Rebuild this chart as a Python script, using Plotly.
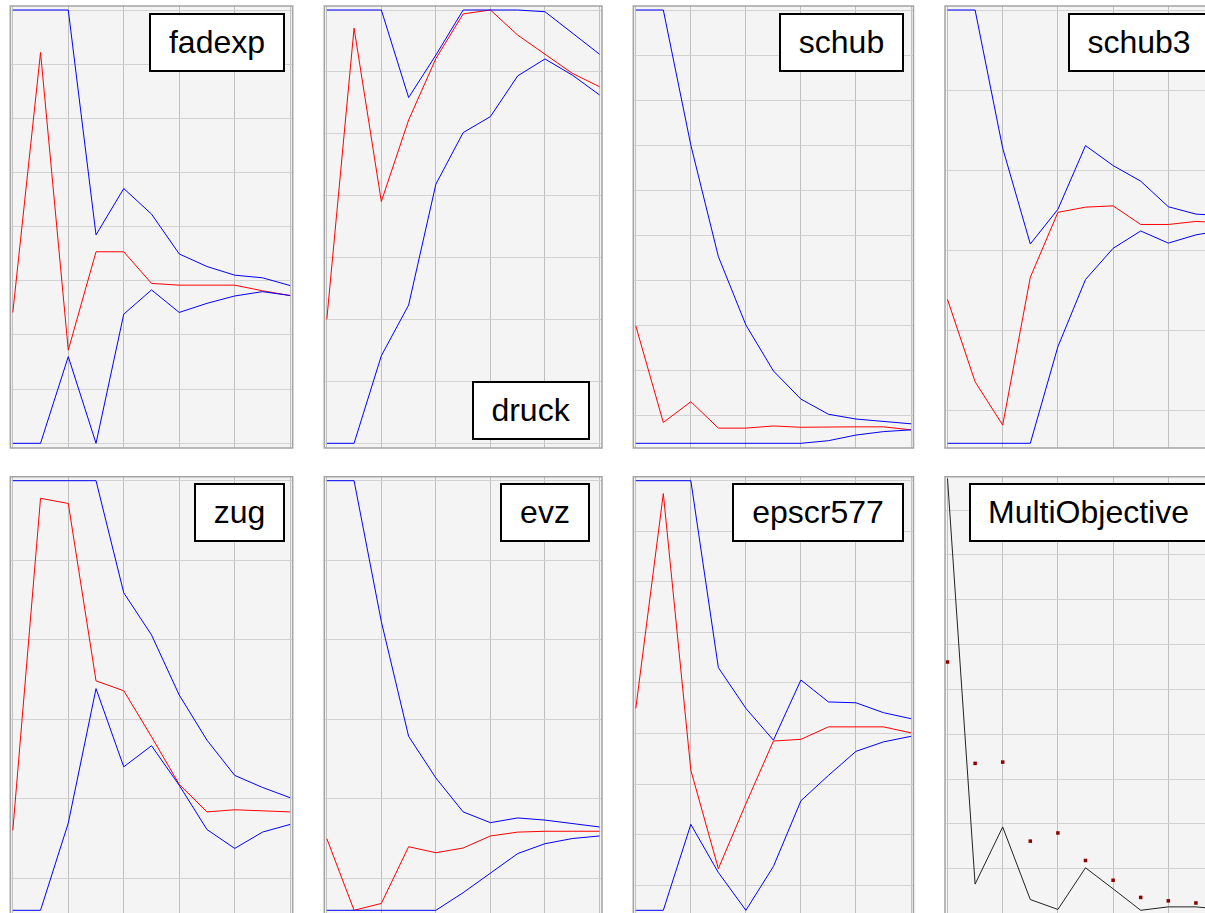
import plotly.graph_objects as go

W, H = 1205, 913

X = list(range(11))

# band values per run, read as percent of each panel's own y span
fadexp_hi = [100, 100, 100, 48.1, 58.8, 52.9, 43.7, 40.8, 38.8, 38.2, 36.4]
fadexp_mid = [30.2, 90.2, 21.5, 44.2, 44.2, 36.9, 36.5, 36.5, 36.5, 35.2, 34.1]
fadexp_lo = [0, 0, 20.0, 0, 29.8, 35.4, 30.2, 32.3, 34.0, 35.0, 34.1]

druck_hi = [100, 100, 100, 79.8, 89.6, 100, 100, 100, 99.6, 94.7, 89.8]
druck_mid = [28.6, 95.8, 55.8, 74.6, 88.8, 99.1, 100, 94.2, 89.8, 85.4, 82.3]
druck_lo = [0, 0, 20.2, 31.9, 59.8, 71.7, 75.4, 84.8, 88.7, 85.0, 80.4]

schub_hi = [100, 100, 68.8, 43.1, 27.3, 16.7, 10.2, 6.7, 5.6, 5.0, 4.5]
schub_mid = [27.1, 4.8, 9.6, 3.5, 3.5, 4.0, 3.7, 3.8, 3.8, 3.8, 3.1]
schub_lo = [0, 0, 0, 0, 0, 0, 0, 0.6, 1.9, 2.7, 3.1]

schub3_hi = [100, 100, 68.1, 46.0, 54.0, 68.7, 64.1, 60.5, 54.6, 52.9, 52.5]
schub3_mid = [33.2, 14.2, 4.2, 38.3, 53.3, 54.5, 54.8, 50.5, 50.5, 51.2, 50.9]
schub3_lo = [0, 0, 0, 0, 22.3, 37.8, 45.0, 49.0, 46.2, 48.1, 49.2]

zug_hi = [100, 100, 100, 100, 73.9, 64.1, 50.1, 39.6, 31.4, 28.6, 26.2]
zug_mid = [18.6, 95.9, 94.7, 53.4, 51.1, 40.4, 29.3, 22.9, 23.4, 23.1, 22.9]
zug_lo = [0, 0, 20.3, 51.6, 33.4, 38.3, 29.1, 18.8, 14.4, 18.2, 20.0]

evz_hi = [100, 100, 67.2, 40.5, 30.8, 22.9, 20.4, 21.5, 21.0, 20.2, 19.4]
evz_mid = [16.7, 0, 1.6, 14.8, 13.4, 14.5, 17.3, 18.2, 18.4, 18.4, 18.4]
evz_lo = [0, 0, 0, 0, 0, 4.1, 8.7, 13.2, 15.5, 16.7, 17.3]

epscr577_hi = [100, 100, 100, 56.5, 47.0, 39.6, 53.6, 48.5, 48.3, 46.0, 44.6]
epscr577_mid = [47.0, 97.0, 32.6, 9.7, 24.8, 39.4, 39.8, 42.7, 42.7, 42.7, 41.3]
epscr577_lo = [0, 0, 20.0, 8.8, 0, 10.2, 25.5, 31.4, 37.0, 39.2, 40.5]

multi_line = [100.5, 6.1, 19.4, 2.5, 0.2, 9.9, 5.0, 0, 0.8, 0.8, 0.2]
multi_dots = [57.8, 34.2, 34.5, 16.1, 18.0, 11.6, 7.0, 3.0, 2.2, 1.7, 1.5]

NAMES = ["fadexp", "druck", "schub", "schub3", "zug", "evz", "epscr577", "MultiObjective"]

BANDS = {
    "fadexp": (fadexp_hi, fadexp_mid, fadexp_lo),
    "druck": (druck_hi, druck_mid, druck_lo),
    "schub": (schub_hi, schub_mid, schub_lo),
    "schub3": (schub3_hi, schub3_mid, schub3_lo),
    "zug": (zug_hi, zug_mid, zug_lo),
    "evz": (evz_hi, evz_mid, evz_lo),
    "epscr577": (epscr577_hi, epscr577_mid, epscr577_lo),
}

# horizontal grid per panel: (tick0, dtick)
YGRID = {
    "fadexp": (0, 12.5),
    "druck": (0, 100 / 7),
    "schub": (100, 10.41),
    "schub3": (100, 18.5),
    "zug": (100, 18.5),
    "evz": (100, 18.5),
    "epscr577": (100, 11.77),
    "MultiObjective": (93.17, 10.44),
}

# label box: right px, top px, width px
BOX = {
    "fadexp": (285.3, 13.3, 136),
    "druck": (590.3, 380.7, 118),
    "schub": (904, 13.3, 125),
    "schub3": (1210, 13.3, 142),
    "zug": (285.3, 483.3, 91),
    "evz": (590, 483.3, 90),
    "epscr577": (904, 483.3, 172),
    "MultiObjective": (1208, 483.3, 239),
}
BOX_H = 58.5

# frame left/right per column, px (last one runs past the window)
COLS = [(10.3, 292.7), (324.3, 602), (633.3, 913.5), (945, 1226)]
# frame top/bottom and data top/bottom (px) per row
ROWS = [(6, 448, 10, 443.3), (476.7, 915, 480.7, 910.3)]

BLUE = "#0000ff"
RED = "#ff0000"
BG = "#f4f4f4"

fig = go.Figure()
shapes = []
annotations = []

for i, name in enumerate(NAMES):
    r, c = divmod(i, 4)
    ax = "" if i == 0 else str(i + 1)
    fl, fr = COLS[c]
    ft, fb, dt, db = ROWS[r]

    # linear pixel mapping for x (0..10) and y (0..100)
    x0px = fl + 2.5
    ppx = (fr - 2.5 - x0px) / 10
    ppy = (db - dt) / 100

    dl, dr = max(fl, 0), min(fr, W)
    dtop, dbot = max(ft, 0), min(fb, H)
    xrange = [(dl - x0px) / ppx, (dr - x0px) / ppx]
    yrange = [(db - dbot) / ppy, (db - dtop) / ppy]

    tick0, dtick = YGRID[name]
    fig.layout["xaxis" + ax] = dict(
        domain=[dl / W, dr / W], range=xrange, anchor="y" + ax,
        showgrid=True, gridcolor="#c0c0c0", gridwidth=1, tick0=0, dtick=2,
        showticklabels=False, ticks="", zeroline=False, showline=False, fixedrange=True,
    )
    fig.layout["yaxis" + ax] = dict(
        domain=[1 - dbot / H, 1 - dtop / H], range=yrange, anchor="x" + ax,
        showgrid=True, gridcolor="#d2d2d2", gridwidth=1, tick0=tick0, dtick=dtick,
        showticklabels=False, ticks="", zeroline=False, showline=False, fixedrange=True,
    )

    xa, ya = "x" + ax, "y" + ax
    if name in BANDS:
        hi, mid, lo = BANDS[name]
        fig.add_trace(go.Scatter(x=X, y=mid, mode="lines", line=dict(color=RED, width=1),
                                 xaxis=xa, yaxis=ya, showlegend=False))
        fig.add_trace(go.Scatter(x=X, y=hi, mode="lines", line=dict(color=BLUE, width=1),
                                 xaxis=xa, yaxis=ya, showlegend=False))
        fig.add_trace(go.Scatter(x=X, y=lo, mode="lines", line=dict(color=BLUE, width=1),
                                 xaxis=xa, yaxis=ya, showlegend=False))
    else:
        fig.add_trace(go.Scatter(x=X, y=multi_line, mode="lines", line=dict(color="#222222", width=1),
                                 xaxis=xa, yaxis=ya, showlegend=False))
        fig.add_trace(go.Scatter(x=X, y=multi_dots, mode="markers",
                                 marker=dict(color="#8b0000", size=3.5, symbol="square"),
                                 xaxis=xa, yaxis=ya, showlegend=False))

    # panel frame (may run past the page edge, gets clipped like the original)
    shapes.append(dict(type="rect", xref="paper", yref="paper",
                       x0=fl / W, x1=fr / W, y0=1 - fb / H, y1=1 - ft / H,
                       line=dict(color="#a4a4a4", width=1.5), fillcolor="rgba(0,0,0,0)"))

    bx, by, bw = BOX[name]
    annotations.append(dict(
        text=name, xref="paper", yref="paper", x=bx / W, y=1 - by / H,
        xanchor="right", yanchor="top", showarrow=False,
        width=bw - 4, height=BOX_H - 4, align="center", valign="middle",
        bgcolor="white", bordercolor="black", borderwidth=2, borderpad=0,
        font=dict(family="Liberation Sans, Arial, sans-serif", size=32, color="black"),
    ))

fig.update_layout(
    width=W, height=H,
    margin=dict(l=0, r=0, t=0, b=0),
    paper_bgcolor="white",
    plot_bgcolor=BG,
    shapes=shapes,
    annotations=annotations,
    showlegend=False,
)

# drop the page's default body margin so the figure sits at the window origin
fig.write_html(
    "out.html",
    config=dict(displayModeBar=False),
    post_script="document.body.style.margin='0';document.body.style.overflow='hidden';",
)
